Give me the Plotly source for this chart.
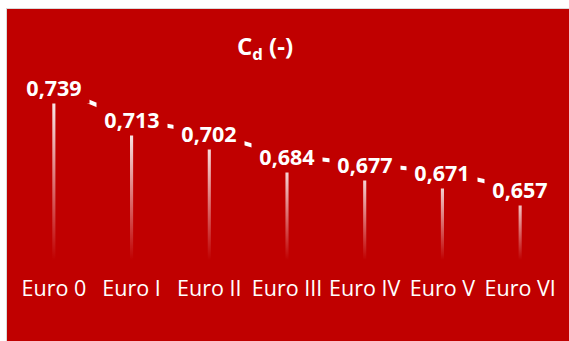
import plotly.graph_objects as go

# Drag coefficient per emission standard
categories = ["Euro 0", "Euro I", "Euro II", "Euro III", "Euro IV", "Euro V", "Euro VI"]
cd_values = [0.739, 0.713, 0.702, 0.684, 0.677, 0.671, 0.657]

# Axis settings
y_min, y_max = 0.60, 0.76

W, H = 569, 341
M = dict(l=15, r=10, t=61, b=81)
RED = "#C00000"
FONT = "Open Sans"


def px_to_paper(px, py):
    """Convert window pixels to paper coordinates of the plot area."""
    pw = W - M["l"] - M["r"]
    ph = H - M["t"] - M["b"]
    return (px - M["l"]) / pw, (H - M["b"] - py) / ph


fig = go.Figure()

# Thin gradient drop lines from the axis floor up to each value
half_w = 0.02
for i, v in enumerate(cd_values):
    fig.add_trace(go.Scatter(
        x=[i - half_w, i + half_w, i + half_w, i - half_w, i - half_w],
        y=[y_min, y_min, v, v, y_min],
        mode="lines",
        line=dict(width=0, color="rgba(255,255,255,0)"),
        fill="toself",
        fillgradient=dict(
            type="vertical",
            start=y_min,
            stop=v,
            colorscale=[[0, "rgba(255,255,255,0)"], [1, "rgba(255,255,255,1)"]],
        ),
        hoverinfo="skip",
        showlegend=False,
    ))

# Connecting line through the values (mostly hidden under the label boxes)
fig.add_trace(go.Scatter(
    x=list(range(len(categories))),
    y=cd_values,
    mode="lines",
    line=dict(color="white", width=4),
    hoverinfo="skip",
    showlegend=False,
))

# Value labels sitting on the points, boxed in the background colour
for i, v in enumerate(cd_values):
    fig.add_annotation(
        x=i, y=v,
        text=f"{v:.3f}".replace(".", ","),
        showarrow=False,
        font=dict(family=FONT, size=21.5, color="white", weight="bold"),
        bgcolor=RED,
        width=66, height=28, borderpad=2,
        xanchor="center", yanchor="middle",
    )

# Chart frame: red panel with a light grey edge on white
x0, y0 = px_to_paper(6.5, 8.5)
x1, y1 = px_to_paper(W + 2, H + 2)
fig.add_shape(
    type="rect", xref="paper", yref="paper",
    x0=x0, y0=y1, x1=x1, y1=y0,
    fillcolor=RED, line=dict(color="#D9D9D9", width=1),
    layer="below",
)

fig.update_layout(
    width=W, height=H,
    margin=M,
    paper_bgcolor="white",
    plot_bgcolor="rgba(0,0,0,0)",
    title=dict(
        text="C<sub>d</sub> (-)",
        font=dict(family=FONT, size=24, color="white", weight="bold"),
        xref="container", yref="container",
        x=265 / W, y=1 - 47 / H,
        xanchor="center", yanchor="middle",
    ),
    xaxis=dict(
        range=[-0.5, len(categories) - 0.5],
        tickvals=list(range(len(categories))),
        ticktext=categories,
        tickfont=dict(family=FONT, size=21.5, color="white"),
        showgrid=False, zeroline=False, showline=False,
        ticks="", ticklabelstandoff=13,
        fixedrange=True,
    ),
    yaxis=dict(
        range=[y_min, y_max],
        visible=False,
        fixedrange=True,
    ),
    showlegend=False,
)

fig.write_html("out.html")
